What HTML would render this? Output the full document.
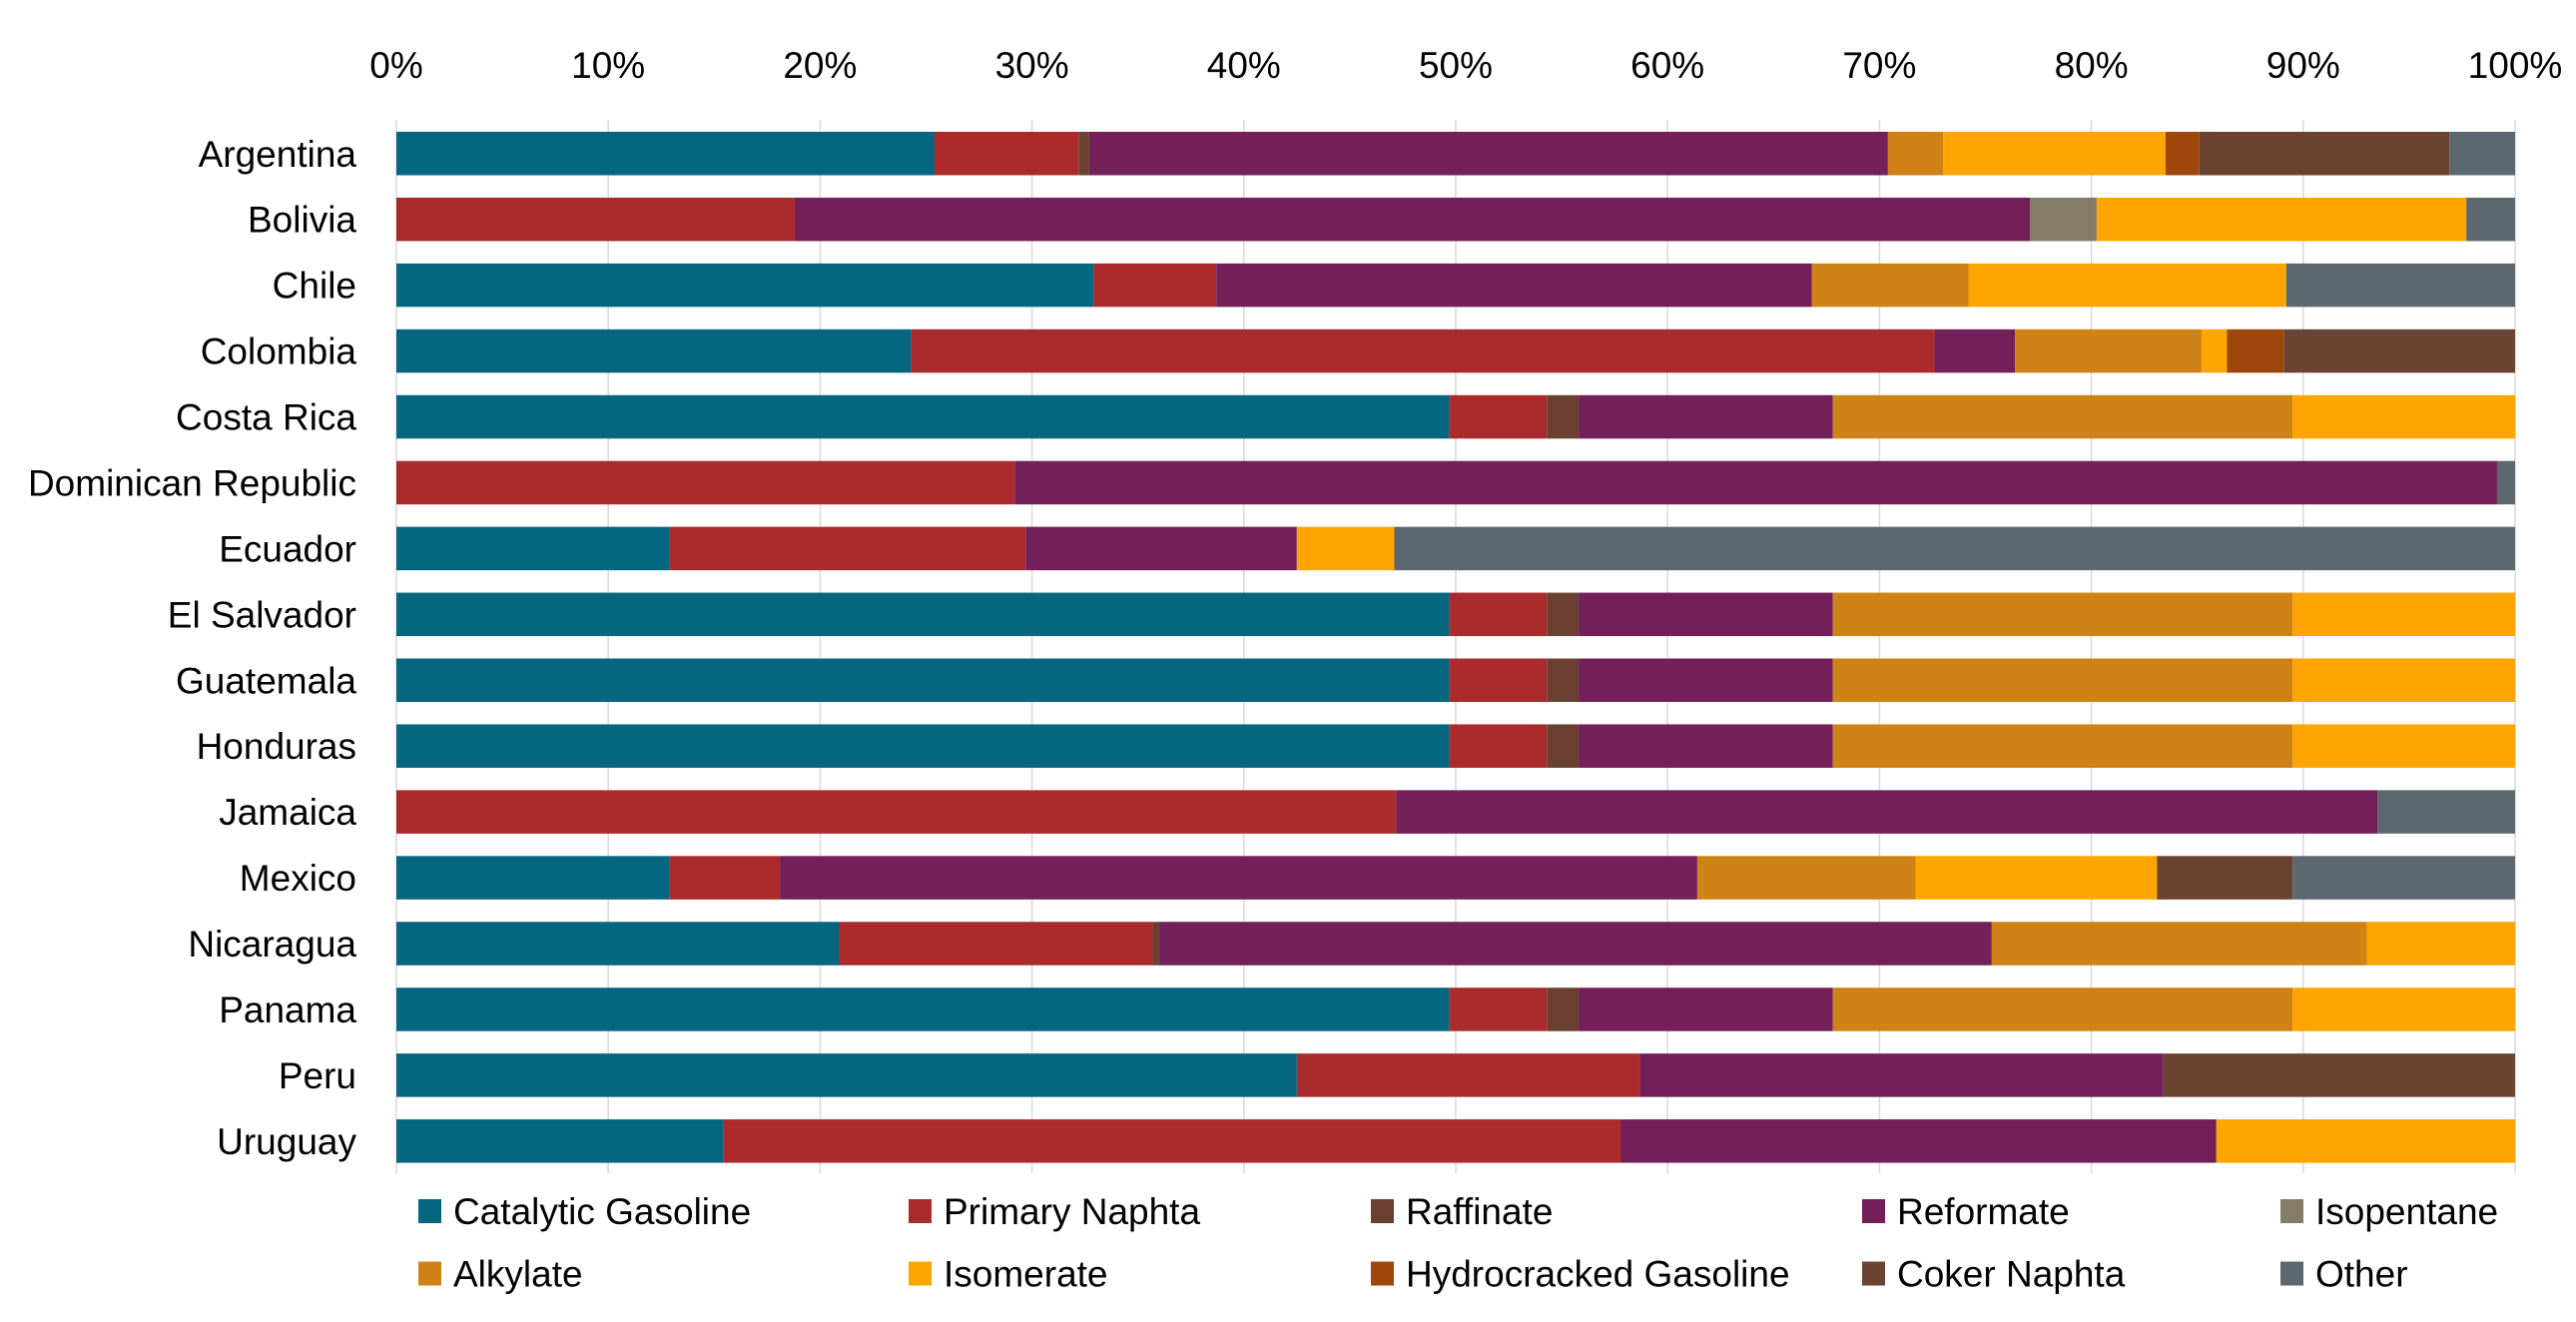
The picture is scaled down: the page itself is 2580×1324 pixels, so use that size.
<!DOCTYPE html>
<html>
<head>
<meta charset="utf-8">
<style>
  html,body{margin:0;padding:0;background:#fff;}
  #chart{display:block;}
  text{font-family:"Liberation Sans",sans-serif;fill:#000;}
</style>
</head>
<body>
<svg id="chart" width="2580" height="1324" viewBox="0 0 2580 1324" xmlns="http://www.w3.org/2000/svg">
  <g id="grid"></g>
  <g id="xticks"></g>
  <g id="ylabels"></g>
  <g id="bars"></g>
  <g id="legend"></g>
</svg>
<script>
const categories = ["Argentina","Bolivia","Chile","Colombia","Costa Rica","Dominican Republic","Ecuador","El Salvador","Guatemala","Honduras","Jamaica","Mexico","Nicaragua","Panama","Peru","Uruguay"];
const tickLabels = ["0%","10%","20%","30%","40%","50%","60%","70%","80%","90%","100%"];
const tickValues = [0,10,20,30,40,50,60,70,80,90,100];

const catalyticGasoline   = [25.4, 0,    32.9, 24.3, 49.7, 0,    12.9, 49.7, 49.7, 49.7, 0,    12.9, 20.9, 49.7, 42.5, 15.45];
const primaryNaphta       = [6.8,  18.8, 5.8,  48.3, 4.6,  29.2, 16.8, 4.6,  4.6,  4.6,  47.2, 5.2,  14.8, 4.6,  16.2, 42.35];
const raffinate           = [0.5,  0,    0,    0,    1.5,  0,    0,    1.5,  1.5,  1.5,  0,    0,    0.3,  1.5,  0,    0];
const reformate           = [37.7, 58.3, 28.1, 3.8,  12.0, 69.95,12.8, 12.0, 12.0, 12.0, 46.3, 43.3, 39.3, 12.0, 24.7, 28.1];
const isopentane          = [0,    3.15, 0,    0,    0,    0,    0,    0,    0,    0,    0,    0,    0,    0,    0,    0];
const alkylate            = [2.6,  0,    7.4,  8.8,  21.7, 0,    0,    21.7, 21.7, 21.7, 0,    10.3, 17.7, 21.7, 0,    0];
const isomerate           = [10.5, 17.45,15.0, 1.2,  10.5, 0,    4.6,  10.5, 10.5, 10.5, 0,    11.4, 7.0,  10.5, 0,    14.1];
const hydrocrackedGasoline= [1.6,  0,    0,    2.7,  0,    0,    0,    0,    0,    0,    0,    0,    0,    0,    0,    0];
const cokerNaphta         = [11.8, 0,    0,    10.9, 0,    0,    0,    0,    0,    0,    0,    6.4,  0,    0,    16.6, 0];
const other               = [3.1,  2.3,  10.8, 0,    0,    0.85, 52.9, 0,    0,    0,    6.5,  10.5, 0,    0,    0,    0];

const seriesNames = ["Catalytic Gasoline","Primary Naphta","Raffinate","Reformate","Isopentane","Alkylate","Isomerate","Hydrocracked Gasoline","Coker Naphta","Other"];
const seriesValues = [catalyticGasoline,primaryNaphta,raffinate,reformate,isopentane,alkylate,isomerate,hydrocrackedGasoline,cokerNaphta,other];
const seriesColors = ["#06657f","#ab2a2c","#6a4130","#731f5a","#857b69","#cf8215","#fea500","#9e470d","#6a4331","#5c6870"];

const NS = "http://www.w3.org/2000/svg";
const plotLeft = 397, plotRight = 2519, plotTop = 120, plotBottom = 1175;
const bandH = (plotBottom - plotTop) / categories.length;
const barH = 43.5;
const FS = 37;
function xScale(p){ return plotLeft + (plotRight - plotLeft) * p / 100; }
function yBand(i){ return plotTop + i * bandH; }
function mk(tag, attrs){ const e = document.createElementNS(NS, tag); for (const k in attrs) e.setAttribute(k, attrs[k]); return e; }

const grid = document.getElementById('grid');
const xt = document.getElementById('xticks');
tickValues.forEach((v, i) => {
  const ln = mk('line', {x1: xScale(v), x2: xScale(v), y1: plotTop, y2: plotBottom, stroke: '#d9d9d9', 'stroke-width': 1.5});
  
  
  grid.appendChild(ln);
  const t = mk('text', {x: xScale(v), y: 78, 'text-anchor': 'middle', 'font-size': FS});
  t.textContent = tickLabels[i];
  
  
  xt.appendChild(t);
});

const yl = document.getElementById('ylabels');
const bars = document.getElementById('bars');
categories.forEach((c, i) => {
  const yc = yBand(i) + 12 + barH / 2;
  const t = mk('text', {x: 357, y: yc + 13, 'text-anchor': 'end', 'font-size': FS});
  t.textContent = c;
  
  
  yl.appendChild(t);
  let cum = 0;
  seriesValues.forEach((arr, s) => {
    const v = arr[i];
    if (v > 0) {
      const r = mk('rect', {x: xScale(cum), y: yBand(i) + 12, width: xScale(cum + v) - xScale(cum), height: barH, fill: seriesColors[s]});
      
      
      bars.appendChild(r);
    }
    cum += v;
  });
});

const lg = document.getElementById('legend');
const legX = [419, 910, 1373, 1865, 2284];
const legY = [1213, 1275.5];
seriesNames.forEach((n, s) => {
  const col = s % 5, row = Math.floor(s / 5);
  const g = mk('g', {});
  
  
  g.appendChild(mk('rect', {x: legX[col], y: legY[row] - 12, width: 23, height: 24, fill: seriesColors[s]}));
  const t = mk('text', {x: legX[col] + 35, y: legY[row] + 13, 'font-size': FS});
  t.textContent = n;
  g.appendChild(t);
  lg.appendChild(g);
});
</script>
</body>
</html>
